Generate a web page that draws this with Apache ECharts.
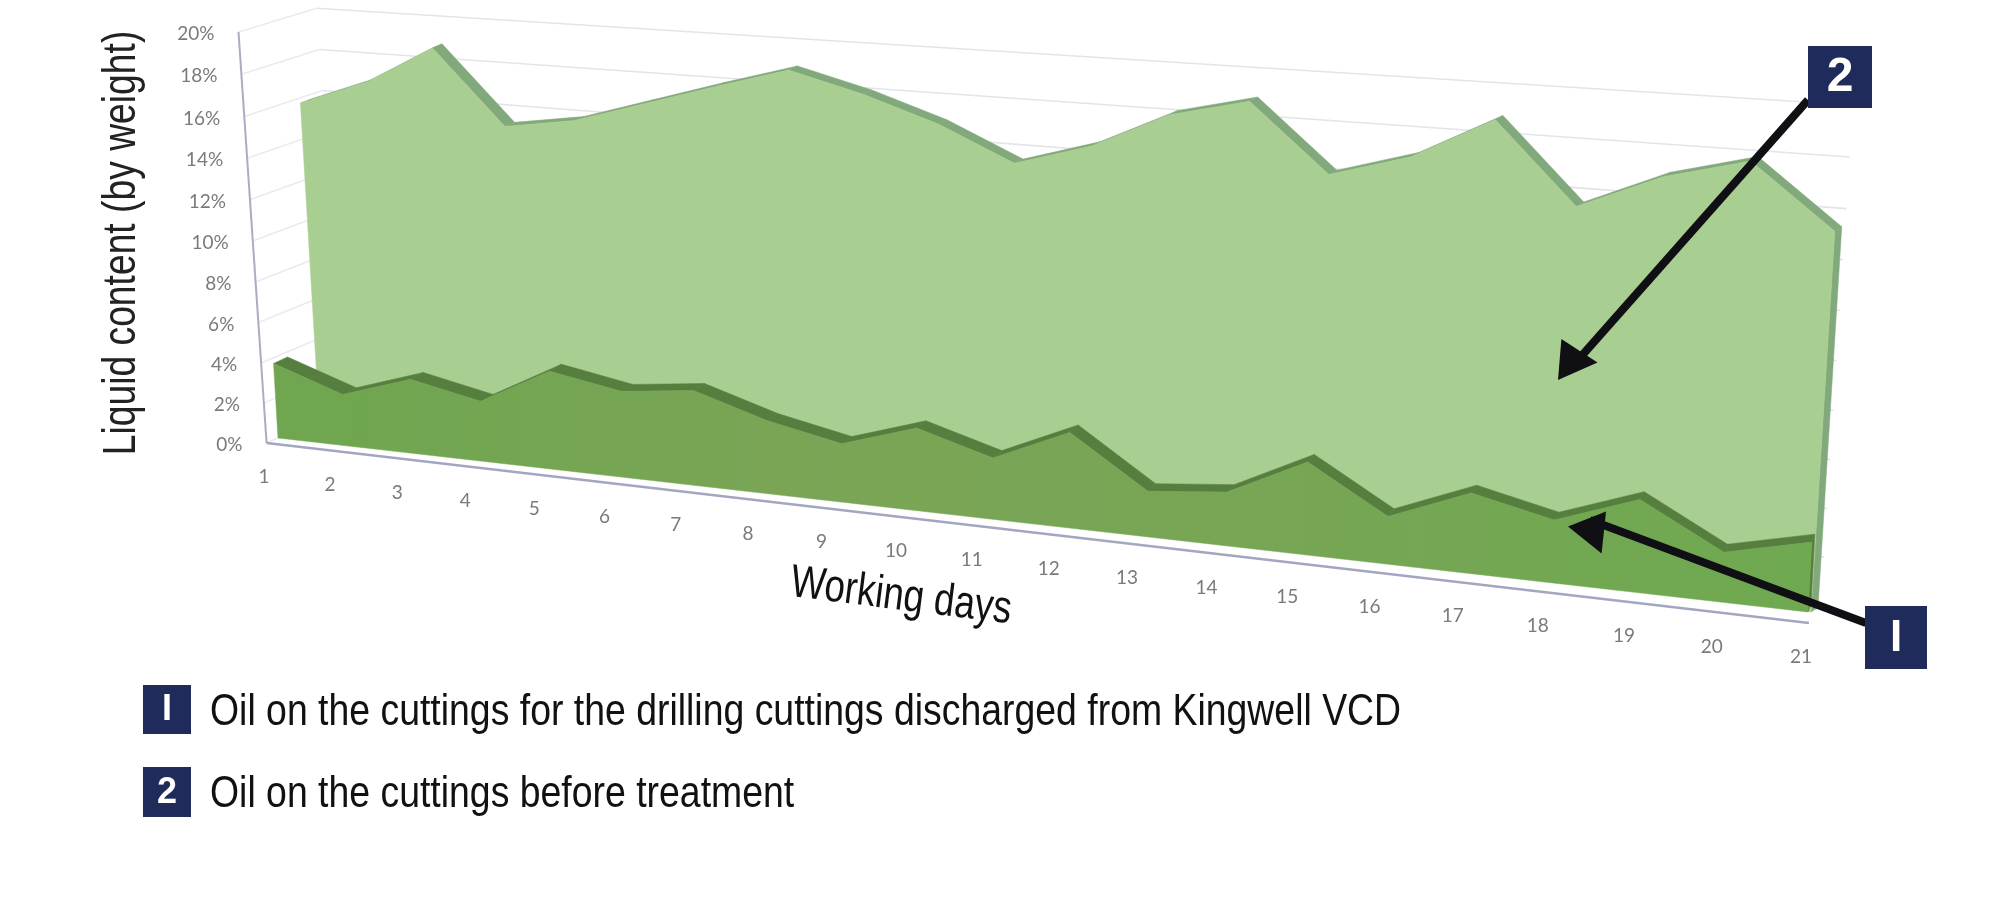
<!DOCTYPE html>
<html><head><meta charset="utf-8">
<style>html,body{margin:0;padding:0;background:#fff}#c{width:2000px;height:899px}</style>
<script src="https://cdn.jsdelivr.net/npm/echarts@6/dist/echarts.min.js"></script>
</head><body><div id="c"></div>
<script>
const days = [1,2,3,4,5,6,7,8,9,10,11,12,13,14,15,16,17,18,19,20,21];
const beforeTreatment = [15.0,16.3,18.2,14.9,15.5,16.6,17.7,18.75,18.0,17.0,15.6,16.7,18.4,19.3,16.5,17.6,19.5,16.2,17.8,18.8,16.25];
const afterVcd = [3.65,2.5,3.6,2.9,4.7,4.1,4.5,3.45,2.75,3.85,2.85,4.4,2.1,2.45,4.2,2.15,3.6,2.8,4.1,2.2,3.05];
const yTicks = [0,2,4,6,8,10,12,14,16,18,20];
const yTitle = 'Liquid content (by weight)';
const xTitle = 'Working days';
const legendOne = 'Oil on the cuttings for the drilling cuttings discharged from Kingwell VCD';
const legendTwo = 'Oil on the cuttings before treatment';
const SANS = '"Liberation Sans",sans-serif';

// perspective planes: corners [bottom-left, bottom-right, top-right, top-left] of the day/value square
function plane(q){
  const [[x0,y0],[x1,y1],[x2,y2],[x3,y3]] = q;
  const sx=x0-x1+x2-x3, sy=y0-y1+y2-y3, dx1=x1-x2, dx2=x3-x2, dy1=y1-y2, dy2=y3-y2;
  const den=dx1*dy2-dx2*dy1, g=(sx*dy2-dx2*sy)/den, h=(dx1*sy-sx*dy1)/den;
  const a=x1-x0+g*x1, b=x3-x0+h*x3, d=y1-y0+g*y1, e=y3-y0+h*y3;
  return (u,v)=>{const w=g*u+h*v+1; return [(a*u+b*v+x0)/w,(d*u+e*v+y0)/w];};
}
const shift=(q,l,r)=>[[q[0][0]+l[0],q[0][1]+l[1]],[q[1][0]+r[0],q[1][1]+r[1]],[q[2][0]+r[0],q[2][1]+r[1]],[q[3][0]+l[0],q[3][1]+l[1]]];
const Aq=[[278,438],[1808,612],[1833.5,140],[253,20]];
const Bq=[[319,414],[1811,612],[1840.5,140],[294,-4]];
const planes={
  front:plane([[266.6,443],[1809,623],[1838,146],[238.5,32]]),
  wall:plane([[344,408],[1821,605],[1853,105],[316.6,8.3]]),
  labels:plane([[264,477],[1801,657],[1830,180],[236,66]]),
  a:plane(Aq), aBack:plane(shift(Aq,[14,-6.7],[3,-8])),
  b:plane(Bq), bBack:plane(shift(Bq,[10,-4],[7,-4.5]))
};
function toUnit(params,api,d,v){
  const p=api.coord([d,v]), c=params.coordSys;
  return [(p[0]-c.x)/c.width,(c.y+c.height-p[1])/c.height];
}
function once(rows,build){
  return {type:'custom',coordinateSystem:'cartesian2d',data:rows,silent:true,clip:false,animation:false,
    renderItem:(params,api)=>params.dataIndex===0?{type:'group',children:build((d,v)=>toUnit(params,api,d,v))}:null};
}
const rowsOf=vals=>days.map((d,i)=>[d,vals[i]]);
const tickRows=yTicks.map(t=>[1,t]);
const seg=(p,q,stroke,w)=>({type:'line',shape:{x1:p[0],y1:p[1],x2:q[0],y2:q[1]},style:{stroke,lineWidth:w}});
const poly=(pts,fill)=>({type:'polygon',shape:{points:pts},style:{fill,stroke:fill,lineWidth:0.5}});

function areaBand(vals,backP,frontP,fill){
  return once(rowsOf(vals),U=>{
    const out=[];
    for(let i=0;i<days.length-1;i++){
      const a=U(days[i],vals[i]),b=U(days[i+1],vals[i+1]);
      out.push(poly([frontP(a[0],a[1]),frontP(b[0],b[1]),backP(b[0],b[1]),backP(a[0],a[1])],fill));
    }
    const e=U(days[days.length-1],vals[vals.length-1]), e0=U(days[days.length-1],0);
    out.push(poly([frontP(e[0],e[1]),backP(e[0],e[1]),backP(e0[0],e0[1]),frontP(e0[0],e0[1])],fill));
    return out;
  });
}
function areaFace(vals,P,fill){
  return once(rowsOf(vals),U=>{
    const pts=days.map((d,i)=>{const a=U(d,vals[i]);return P(a[0],a[1]);});
    const e0=U(days[days.length-1],0), s0=U(days[0],0);
    pts.push(P(e0[0],e0[1]),P(s0[0],s0[1]));
    return [poly(pts,fill)];
  });
}
const faceOne=new echarts.graphic.LinearGradient(278,0,1808,0,[{offset:0,color:'#6fa64f'},{offset:.35,color:'#7aa556'},{offset:.7,color:'#76a654'},{offset:1,color:'#6fa950'}],true);

const series=[
  once(tickRows,U=>{ // walls
    const out=[];
    yTicks.forEach(t=>{
      const a=U(1,t),b=U(21,t);
      out.push(seg(planes.wall(a[0],a[1]),planes.wall(b[0],b[1]),'#e2e4ea',1.6));
      out.push(seg(planes.front(0,a[1]),planes.wall(0,a[1]),'#e9ebef',1.6));
    });
    return out;
  }),
  areaBand(beforeTreatment,planes.bBack,planes.b,'#82a97b'),
  areaFace(beforeTreatment,planes.b,'#a8ce91'),
  areaBand(afterVcd,planes.aBack,planes.a,'#567f3f'),
  areaFace(afterVcd,planes.a,faceOne),
  once(tickRows,U=>{ // axis lines
    const a=U(1,0),t=U(1,20),e=U(21,0);
    return [seg(planes.front(a[0],a[1]),planes.front(t[0],t[1]),'#a9adc2',2),
            seg(planes.front(a[0],a[1]),planes.front(e[0],e[1]),'#a3a6c0',2.4)];
  }),
  once(tickRows,U=>yTicks.map(t=>{ // value labels
    const a=U(1,t),p=planes.front(a[0],a[1]);
    return {type:'text',style:{text:t+'%',x:p[0]-24,y:p[1]+2,align:'right',verticalAlign:'middle',fill:'#7a7a7a',font:'19px Lato'}};
  })),
  once(rowsOf(afterVcd),U=>days.map(d=>{ // day labels
    const a=U(d,0),p=planes.labels(a[0],a[1]);
    return {type:'text',style:{text:String(d),x:p[0],y:p[1],align:'center',verticalAlign:'middle',fill:'#7a7a7a',font:'19px Lato'}};
  }))
];
const NAVY='#1e2b5b', INK='#0f0f14';
const box=(x,y,w,h,t,fs)=>[
  {type:'rect',shape:{x,y,width:w,height:h},style:{fill:NAVY},z:20},
  {type:'text',style:{text:t,x:x+w/2,y:y+h/2+1,align:'center',verticalAlign:'middle',fill:'#fff',font:'bold '+fs+'px '+SANS},z:21}
];
const arrow=(x1,y1,x2,y2,pts)=>[
  {type:'line',shape:{x1,y1,x2,y2},style:{stroke:INK,lineWidth:8},z:18},
  {type:'polygon',shape:{points:pts},style:{fill:INK},z:19}
];
const condensed=(text,x,y,size,sx,rot,align,fill)=>({type:'text',x,y,rotation:rot,scaleX:sx,scaleY:1,
  style:{text,x:0,y:0,align,verticalAlign:'middle',fill,font:size+'px '+SANS},z:15});
const graphic=[
  condensed(yTitle,122,243,46,0.81,Math.PI/2,'center','#222'),
  condensed(xTitle,901,597,46,0.8,-7.1*Math.PI/180,'center','#111'),
  condensed(legendOne,210,713,44,0.85,0,'left','#111'),
  condensed(legendTwo,210,795,44,0.85,0,'left','#111'),
  ...arrow(1808,100,1578,360,[[1558,380],[1561.4,339],[1597.5,362.6]]),
  ...arrow(1866,623,1590,520,[[1568,526.5],[1606,511.4],[1601.6,553.5]]),
  ...box(1808,46,64,62,'2',48),
  ...box(1865,606,62,63,'I',44),
  ...box(143,685,48,49,'I',36),
  ...box(143,767,48,50,'2',36)
];
const chart=echarts.init(document.getElementById('c'),null,{width:2000,height:899});
chart.setOption({
  animation:false,backgroundColor:'#fff',
  grid:{left:300,top:100,width:1400,height:500},
  xAxis:{type:'value',min:1,max:21,interval:1,show:false},
  yAxis:{type:'value',min:0,max:20,interval:2,show:false},
  series,graphic
});
</script></body></html>
